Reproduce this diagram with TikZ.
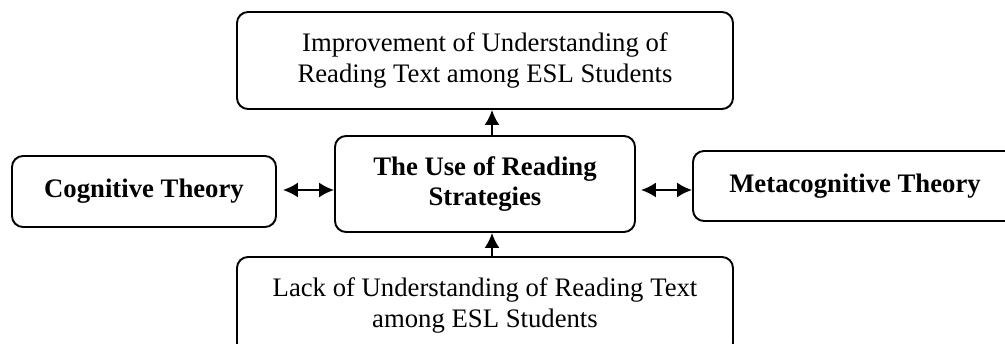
\documentclass[tikz,border=0pt]{standalone}
\usepackage{fontspec}
\setmainfont{Liberation Serif}
\usetikzlibrary{arrows.meta}

\begin{document}
\begin{tikzpicture}[
  box/.style={draw, line width=1.1pt, rounded corners=0.22cm, inner sep=0pt, align=center,
    font=\fontsize{15.2}{17.4}\selectfont},
  link/.style={line width=1.1pt, {Latex[length=0.3cm,width=0.3cm]}-{Latex[length=0.3cm,width=0.3cm]}},
  up/.style={line width=1.1pt, -{Latex[length=0.3cm,width=0.3cm]}}
]
\useasboundingbox (0,0) rectangle (20.1,-6.88);

\node[box, minimum width=9.92cm, minimum height=1.94cm] (top) at (9.70,-1.21)
  {Improvement of Understanding of\\Reading Text among ESL Students};
\node[box, minimum width=6.00cm, minimum height=1.92cm, font=\fontsize{15.2}{17.4}\selectfont\bfseries] (mid) at (9.70,-3.68)
  {The Use of Reading\\Strategies};
\node[box, minimum width=5.28cm, minimum height=1.42cm, font=\fontsize{15.2}{17.4}\selectfont\bfseries] (cog) at (2.88,-3.83)
  {Cognitive Theory};
\node[box, minimum width=6.48cm, minimum height=1.40cm, font=\fontsize{15.2}{17.4}\selectfont\bfseries] (meta) at (17.10,-3.72)
  {Metacognitive Theory};
\node[box, minimum width=9.92cm, minimum height=1.94cm] (bot) at (9.70,-6.11)
  {Lack of Understanding of Reading Text\\among ESL Students};

\draw[link] ([xshift=0.12cm]cog.east |- 0,-3.80) -- (mid.west |- 0,-3.80);
\draw[link] ([xshift=0.10cm]mid.east |- 0,-3.80) -- (meta.west |- 0,-3.80);
\draw[up] ([xshift=0.14cm]mid.north) -- ([xshift=0.14cm]mid.north |- top.south);
\draw[up] ([xshift=0.14cm]bot.north) -- ([xshift=0.14cm]bot.north |- mid.south);
\end{tikzpicture}
\end{document}
